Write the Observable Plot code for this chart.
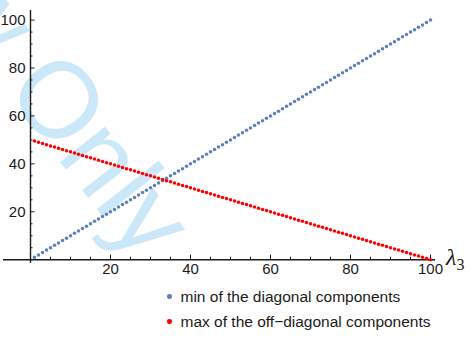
<!DOCTYPE html>
<html><head><meta charset="utf-8">
<script src="https://cdn.jsdelivr.net/npm/d3@7"></script>
<script src="https://cdn.jsdelivr.net/npm/@observablehq/plot@0.6"></script>
<style>
body{margin:0;background:#fff;font-family:Arial,"Liberation Sans",sans-serif;}
#wrap{position:relative;width:474px;height:359px;overflow:hidden;background:#fff}
#wrap svg{position:absolute;left:0;top:0}
#wm{position:absolute;left:75px;top:34px;font-family:Arial,"Liberation Sans",sans-serif;font-size:108px;line-height:1;color:#cbe8f9;white-space:pre;transform-origin:0 0;transform:translate(-236px,-303px) rotate(52deg);transform-box:view-box}
#legend{position:absolute;left:167px;top:284px;font-size:15.5px;color:#1a1a1a;line-height:25px}
#legend .item{display:flex;align-items:center;white-space:nowrap}
#legend .sw{width:4.5px;height:4.5px;border-radius:50%;margin-right:9px;flex:none}
</style></head><body><div id="wrap"></div>
<script>
const lambda3 = [1,2,3,4,5,6,7,8,9,10,11,12,13,14,15,16,17,18,19,20,21,22,23,24,25,26,27,28,29,30,31,32,33,34,35,36,37,38,39,40,41,42,43,44,45,46,47,48,49,50,51,52,53,54,55,56,57,58,59,60,61,62,63,64,65,66,67,68,69,70,71,72,73,74,75,76,77,78,79,80,81,82,83,84,85,86,87,88,89,90,91,92,93,94,95,96,97,98,99,100];
const minDiagonal = [1,2,3,4,5,6,7,8,9,10,11,12,13,14,15,16,17,18,19,20,21,22,23,24,25,26,27,28,29,30,31,32,33,34,35,36,37,38,39,40,41,42,43,44,45,46,47,48,49,50,51,52,53,54,55,56,57,58,59,60,61,62,63,64,65,66,67,68,69,70,71,72,73,74,75,76,77,78,79,80,81,82,83,84,85,86,87,88,89,90,91,92,93,94,95,96,97,98,99,100];
const maxOffDiagonal = [49.5,49,48.5,48,47.5,47,46.5,46,45.5,45,44.5,44,43.5,43,42.5,42,41.5,41,40.5,40,39.5,39,38.5,38,37.5,37,36.5,36,35.5,35,34.5,34,33.5,33,32.5,32,31.5,31,30.5,30,29.5,29,28.5,28,27.5,27,26.5,26,25.5,25,24.5,24,23.5,23,22.5,22,21.5,21,20.5,20,19.5,19,18.5,18,17.5,17,16.5,16,15.5,15,14.5,14,13.5,13,12.5,12,11.5,11,10.5,10,9.5,9,8.5,8,7.5,7,6.5,6,5.5,5,4.5,4,3.5,3,2.5,2,1.5,1,0.5,0];
const seriesNames = ["min of the diagonal components", "max of the off\u2212diagonal components"];
const seriesColors = ["#5e81b5", "#ff0000"];
const xMajorTicks = [20,40,60,80,100];
const xMinorTicks = [5,10,15,25,30,35,45,50,55,65,70,75,85,90,95];
const yMajorTicks = [20,40,60,80,100];
const yMinorTicks = [5,10,15,25,30,35,45,50,55,65,70,75,85,90,95];
const xDomain = [0, 101.25];
const yDomain = [0, 104];
const xAxisExtent = [-6.75, 101.25];
const yAxisExtent = [-1.5, 104];
const watermarkText = "Review Only";

const rows = [
  ...lambda3.map((x, i) => ({x, y: minDiagonal[i], s: seriesNames[0]})),
  ...lambda3.map((x, i) => ({x, y: maxOffDiagonal[i], s: seriesNames[1]}))
];

const ink = "#1a1a1a";
const plot = Plot.plot({
  width: 474, height: 282,
  marginLeft: 30, marginRight: 39, marginTop: 10, marginBottom: 22.8,
  x: {domain: xDomain},
  y: {domain: yDomain},
  color: {domain: seriesNames, range: seriesColors},
  style: {fontFamily: "Arial, 'Liberation Sans', sans-serif", fontSize: "15px", color: ink, background: "transparent"},
  marks: [
    Plot.ruleY([0], {x1: xAxisExtent[0], x2: xAxisExtent[1], stroke: ink, strokeWidth: 1.4}),
    Plot.ruleX([0], {y1: yAxisExtent[0], y2: yAxisExtent[1], stroke: ink, strokeWidth: 1.4}),
    Plot.axisX({ticks: xMajorTicks, tickSize: -4.5, tickPadding: 8.5, fontSize: 15, stroke: ink, fill: ink, label: null}),
    Plot.axisX({ticks: xMinorTicks, tickSize: -2.5, tickFormat: () => "", stroke: ink, label: null}),
    Plot.axisY({ticks: yMajorTicks, tickSize: -4.5, tickPadding: 9.5, fontSize: 15, stroke: ink, fill: ink, label: null}),
    Plot.axisY({ticks: yMinorTicks, tickSize: -2.5, tickFormat: () => "", stroke: ink, label: null}),
    Plot.dot(rows, {x: "x", y: "y", fill: "s", r: 1.75})
  ]
});

const svg = d3.select(plot);
const lab = svg.append("text")
  .attr("x", 446).attr("y", 265)
  .attr("text-anchor", "start")
  .attr("font-family", "'Liberation Serif', 'Times New Roman', serif")
  .attr("fill", ink);
lab.append("tspan").attr("font-size", 24).attr("font-style", "italic").text("\u03bb");
lab.append("tspan").attr("font-size", 16).attr("dy", 5).text("3");

const wrap = document.getElementById("wrap");
const wm = document.createElement("div");
wm.id = "wm";
wm.textContent = watermarkText;
wrap.appendChild(wm);
wrap.appendChild(plot);
const legend = document.createElement("div");
legend.id = "legend";
seriesNames.forEach((name, i) => {
  const item = document.createElement("div");
  item.className = "item";
  const sw = document.createElement("span");
  sw.className = "sw";
  sw.style.background = seriesColors[i];
  const t = document.createElement("span");
  t.textContent = name;
  item.appendChild(sw); item.appendChild(t);
  legend.appendChild(item);
});
wrap.appendChild(legend);
</script>
</body></html>
